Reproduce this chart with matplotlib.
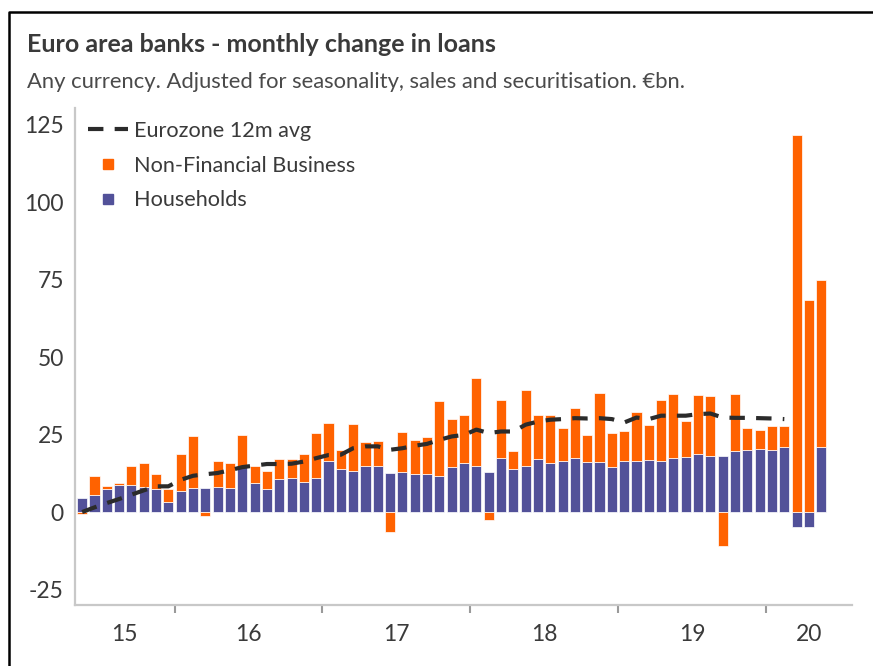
import numpy as np
import pandas as pd
import matplotlib
matplotlib.use("Agg")
import matplotlib.pyplot as plt
from matplotlib.lines import Line2D

plt.rcParams['font.family'] = ['Lato', 'DejaVu Sans']
plt.rcParams['axes.unicode_minus'] = False

# monthly data, May 2015 - May 2020 (EUR bn)
months = pd.period_range('2015-05', '2020-05', freq='M')

households = [4.5, 5.6, 7.5, 8.6, 8.6, 8.2, 7.5, 3.2, 6.7, 7.7, 7.7, 8.1, 7.8, 14.7, 9.4, 7.5,
              10.8, 11.0, 9.6, 11.1, 16.4, 13.8, 13.3, 15.0, 14.9, 12.5, 12.8, 12.2, 12.3, 11.7,
              14.6, 15.8, 14.9, 12.9, 17.3, 14.0, 14.8, 17.0, 15.7, 16.5, 17.4, 16.1, 16.3, 14.4,
              16.6, 16.6, 16.9, 16.5, 17.3, 17.8, 18.6, 18.2, 18.0, 19.8, 20.0, 20.5, 20.1, 21.0,
              -4.8, -4.7, 21.0]

nfc = [-0.5, 5.9, 1.0, 0.9, 6.4, 7.6, 4.8, 4.3, 11.9, 16.7, -1.2, 8.5, 8.1, 10.2, 5.6, 5.7,
       6.2, 6.0, 9.2, 14.5, 12.2, 6.3, 15.2, 7.6, 7.9, -6.5, 13.0, 11.2, 12.0, 24.1,
       15.3, 15.5, 28.3, -2.6, 18.9, 5.6, 24.7, 14.2, 15.5, 10.5, 16.1, 8.7, 22.0, 11.0,
       9.5, 15.6, 11.2, 19.8, 20.9, 11.6, 19.2, 19.1, -11.1, 18.4, 7.0, 6.0, 7.7, 6.8,
       121.8, 68.3, 54.0]

# 12m average, runs to Feb 2020
avg_12m = [0.0, 1.5, 2.9, 4.2, 5.6, 7.0, 8.3, 8.3, 10.4, 11.7, 12.2, 12.6, 13.5, 14.5, 15.0, 15.5,
           15.5, 15.6, 16.3, 17.4, 18.4, 18.5, 20.6, 21.2, 21.2, 20.1, 20.6, 21.4, 22.0, 23.3,
           24.4, 24.9, 26.6, 25.5, 26.0, 26.0, 28.2, 29.2, 29.8, 30.0, 30.3, 30.2, 30.3, 30.0,
           28.9, 30.5, 30.0, 31.1, 31.1, 31.1, 31.6, 31.8, 30.5, 30.4, 30.4, 30.3, 30.2, 30.0]

ORANGE = '#FF6200'
PURPLE = '#525199'
GREY = '#3a3a3a'

x = np.arange(len(months))
hh = np.array(households)
nf = np.array(nfc)

# stack positives on positives, negatives on negatives
nf_bottom = np.where(nf >= 0, np.clip(hh, 0, None), np.clip(hh, None, 0))

fig = plt.figure(figsize=(8.73, 6.66), dpi=100)
ax = fig.add_axes([0.0859, 0.0916, 0.8897, 0.7462])

ax.bar(x, hh, width=0.82, color=PURPLE, edgecolor='white', linewidth=0.5, zorder=2)
ax.bar(x, nf, width=0.82, bottom=nf_bottom, color=ORANGE, edgecolor='white', linewidth=0.5, zorder=2)
line, = ax.plot(x[:len(avg_12m)], avg_12m, color='#2b2b2b', lw=3.0, zorder=3)
line.set_dashes([3.7, 2.7])

ax.set_xlim(-0.58, 62.47)
ax.set_ylim(-30, 130.4)

# year boundaries as ticks, year labels centred in between
years = sorted(set(months.year))
bounds = [i - 0.5 for i in range(len(months)) if months[i].month == 1]
edges = [ax.get_xlim()[0]] + bounds + [ax.get_xlim()[1]]
centres = [(a + b) / 2 for a, b in zip(edges[:-1], edges[1:])]
ax.set_xticks(bounds)
ax.set_xticklabels([])
ax.set_xticks(centres, minor=True)
ax.set_xticklabels([str(y)[2:] for y in years], minor=True)
ax.tick_params(axis='x', which='major', length=6, width=1.5, color='#9a9a9a', direction='out')
ax.tick_params(axis='x', which='minor', length=0, pad=14, labelsize=16.5, labelcolor=GREY)

ax.set_yticks([-25, 0, 25, 50, 75, 100, 125])
ax.tick_params(axis='y', length=0, pad=8, labelsize=16.5, labelcolor=GREY)

for s in ['top', 'right']:
    ax.spines[s].set_visible(False)
for s in ['left', 'bottom']:
    ax.spines[s].set_color('#c8c8c8')
    ax.spines[s].set_linewidth(1.6)

handles = [
    Line2D([], [], color='#2b2b2b', lw=3.0, dashes=[3.7, 2.7]),
    Line2D([], [], color=ORANGE, marker='s', markersize=7, lw=0),
    Line2D([], [], color=PURPLE, marker='s', markersize=7, lw=0),
]
leg = ax.legend(handles, ['Eurozone 12m avg', 'Non-Financial Business', 'Households'],
                loc='upper left', bbox_to_anchor=(77 / 873, 1 - 110 / 666),
                bbox_transform=fig.transFigure, frameon=True, fancybox=False,
                edgecolor='none', facecolor='white', framealpha=1,
                fontsize=15.6, labelcolor=GREY, handlelength=1.85, handletextpad=0.3,
                labelspacing=0.68, borderpad=0.5, borderaxespad=0)
leg.set_zorder(5)

fig.text(27 / 873, 1 - 45 / 666, 'Euro area banks - monthly change in loans',
         fontsize=18, fontweight='bold', color=GREY, va='center', ha='left')
fig.text(27 / 873, 1 - 82 / 666,
         'Any currency. Adjusted for seasonality, sales and securitisation. €bn.',
         fontsize=15.8, color='#4a4a4a', va='center', ha='left')

# border lines round the panel
fig.add_artist(Line2D([8.5 / 873, 8.5 / 873, 1.0], [0.0, 1 - 11.5 / 666, 1 - 11.5 / 666],
                      transform=fig.transFigure, color='black', lw=1.8))

fig.savefig('out.png', dpi=100, facecolor='white')
